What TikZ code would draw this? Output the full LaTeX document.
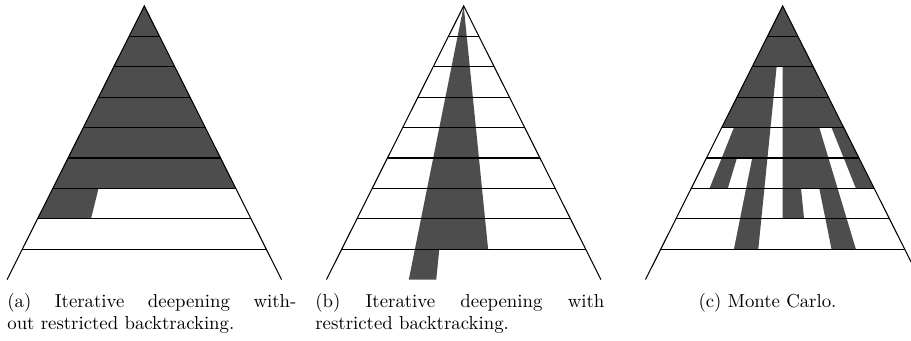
\documentclass[tikz,border=0pt]{standalone}
\usepackage{tikz}
\usetikzlibrary{positioning}
\definecolor{slicegray}{RGB}{77,77,77}
\tikzset{
  tline/.style ={line width=0.6pt, black},
  tslice/.style={fill=slicegray},
  tcap/.style  ={inner sep=0pt, text width=5.78cm, align=justify,
                 font=\fontsize{10.7}{12.5}\selectfont},
  tlevel/.style={x=0.305cm, y=0.608cm},
}
% slice of the tree: offsets #1..#2 (-1 = left side, 1 = right side), levels #3..#4
\newcommand{\treeslice}[4]{%
  \fill[tslice] ({#1*#3},{-#3}) -- ({#2*#3},{-#3}) -- ({#2*#4},{-#4}) -- ({#1*#4},{-#4}) -- cycle;}
\newcommand{\treegrid}{%
  \foreach \k in {1,...,8} {\draw[tline] (-\k,-\k) -- (\k,-\k);}
  \draw[tline] (-9,-9) -- (0,0) -- (9,-9);}

\begin{document}
\begin{tikzpicture}
  \useasboundingbox (0,0) rectangle (18.22,-6.82);
  % (a) iterative deepening without restricted backtracking
  \begin{scope}[shift={(2.886cm,-0.12cm)}, tlevel]
    \treeslice{-1}{1}{0}{6}
    \treeslice{-1}{-0.5}{6}{7}
    \treegrid
  \end{scope}
  % (b) with restricted backtracking
  \begin{scope}[shift={(9.274cm,-0.12cm)}, tlevel]
    \treeslice{-0.4}{0.2}{0}{8}
    \treeslice{-0.4}{-0.2}{8}{9}
    \treegrid
  \end{scope}
  % (c) monte carlo
  \begin{scope}[shift={(15.654cm,-0.12cm)}, tlevel]
    \foreach \a/\b/\p/\q in {-1/1/0/2, -1/-0.2/2/4, 0/1/2/4,
        -0.8/-0.2/4/5, 0/0.6/4/5, 0.8/1/4/5,
        -0.8/-0.6/5/6, -0.4/-0.2/5/6, 0/0.6/5/6, 0.8/1/5/6,
        -0.4/-0.2/6/7, 0/0.2/6/7, 0.4/0.6/6/7,
        -0.4/-0.2/7/8, 0.4/0.6/7/8} {
      \treeslice{\a}{\b}{\p}{\q}
    }
    \treegrid
  \end{scope}
  \node[tcap, anchor=north west] (capA) at (0.14,-5.87)
    {(a) Iterative deepening with-\linebreak out restricted backtracking.};
  \node[tcap, anchor=north west] (capB) at (6.30,-5.87)
    {(b) Iterative deepening with\linebreak restricted backtracking.};
  \node[tcap, anchor=north, align=center] (capC) at (15.35,-5.87)
    {(c) Monte Carlo.};
\end{tikzpicture}
\end{document}
